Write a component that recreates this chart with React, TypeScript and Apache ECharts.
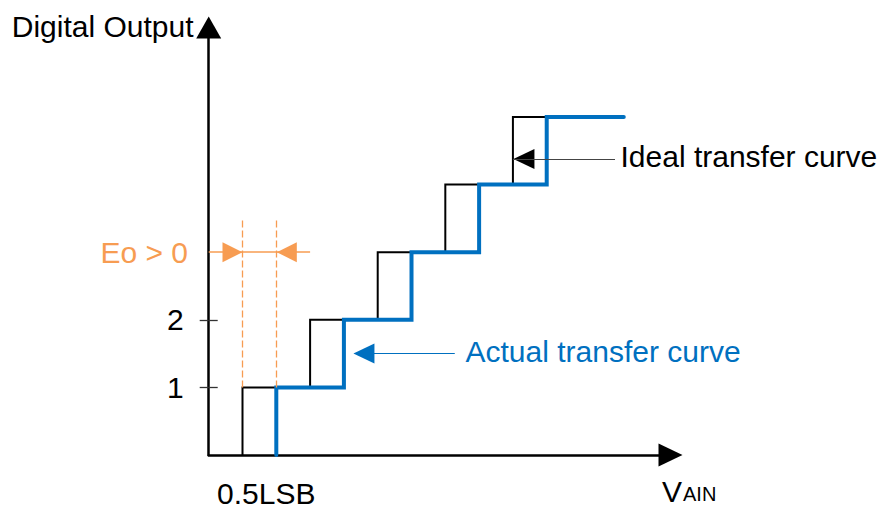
import React, { useEffect, useRef } from 'react';
import * as echarts from 'echarts';

// ---- data (LSB units on x, output codes on y) ----
const codes = [1, 2, 3, 4, 5];
const idealTransitions = [0.5, 1.5, 2.5, 3.5, 4.5];
const idealEnd = 5.0;
const actualTransitions = [1, 2, 3, 4, 5];
const actualEnd = 6.14;
const yTickValues = [1, 2];
const offsetLevel = 3;
const offsetDashTop = 3.5;
const texts = {
  yName: 'Digital Output',
  xName: 'V',
  xNameSub: 'AIN',
  offset: 'Eo > 0',
  halfLsb: '0.5LSB',
  ideal: 'Ideal transfer curve',
  actual: 'Actual transfer curve',
};

const BLUE = '#0070C0';
const ORANGE = '#F79C52';
const FONT = "'Liberation Sans', Arial, sans-serif";

function staircase(trans: number[], end: number): number[][] {
  const pts: number[][] = [[trans[0], 0]];
  trans.forEach((x, i) => {
    pts.push([x, codes[i]]);
    const nx = i + 1 < trans.length ? trans[i + 1] : end;
    pts.push([nx, codes[i]]);
  });
  return pts;
}

export default function App() {
  const ref = useRef<HTMLDivElement>(null);
  useEffect(() => {
    if (!ref.current) return;
    const chart = echarts.init(ref.current, null, { renderer: 'svg' });
    const X_MAX = 6.831;
    const Y_MAX = 6.324;
    const txt = (x: number, y: number, text: string, color: string, size: number, align: string) => ({
      type: 'text',
      x,
      y,
      silent: true,
      style: {
        text,
        fill: color,
        fontSize: size,
        fontFamily: FONT,
        lineHeight: Math.round(size * 0.85),
        align,
        verticalAlign: 'middle',
      },
    });
    const option: any = {
      animation: false,
      grid: { left: 208.7, right: 210.5, top: 27.5, bottom: 55, outerBoundsMode: 'none' },
      xAxis: {
        type: 'value',
        min: 0,
        max: X_MAX,
        axisLine: {
          show: true,
          symbol: ['none', 'triangle'],
          symbolSize: [23, 24],
          lineStyle: { color: '#000', width: 2.5 },
        },
        axisTick: { show: false },
        axisLabel: { show: false },
        splitLine: { show: false },
      },
      yAxis: [
        {
          type: 'value',
          min: 0,
          max: Y_MAX,
          position: 'left',
          axisLine: {
            show: true,
            symbol: ['none', 'triangle'],
            symbolSize: [25, 22],
            lineStyle: { color: '#000', width: 2.5 },
          },
          axisTick: {
            show: true,
            customValues: yTickValues,
            length: 9,
            lineStyle: { color: '#333', width: 1.3 },
          },
          axisLabel: {
            show: true,
            customValues: yTickValues,
            margin: 25,
            fontSize: 30,
            fontFamily: FONT,
            color: '#000',
          },
          splitLine: { show: false },
        },
        {
          type: 'value',
          min: 0,
          max: Y_MAX,
          position: 'left',
          offset: 0,
          axisLine: { show: false },
          axisTick: {
            show: true,
            inside: true,
            customValues: yTickValues,
            length: 9,
            lineStyle: { color: '#333', width: 1.3 },
          },
          axisLabel: { show: false },
          splitLine: { show: false },
        },
      ],
      series: [
        {
          type: 'line',
          name: 'Ideal',
          data: staircase(idealTransitions, idealEnd),
          symbol: 'none',
          silent: true,
          z: 3,
          lineStyle: { color: '#000', width: 2, join: 'miter' },
        },
        {
          type: 'scatter',
          name: 'IdealPointer',
          z: 2,
          silent: true,
          clip: false,
          symbol: 'triangle',
          symbolSize: [20, 21],
          itemStyle: { color: '#000', opacity: 1 },
          data: [{ value: [idealTransitions[4], 4.38], symbolRotate: 90, symbolOffset: [11, 0] }],
          markLine: {
            silent: true,
            symbol: ['none', 'none'],
            label: { show: false },
            lineStyle: { color: '#444', width: 1.2, type: 'solid' },
            data: [[{ coord: [idealTransitions[4], 4.38] }, { coord: [6.01, 4.38] }]],
          },
        },
        {
          type: 'scatter',
          name: 'ActualPointer',
          z: 2,
          silent: true,
          clip: false,
          symbol: 'triangle',
          symbolSize: [20, 21],
          itemStyle: { color: BLUE, opacity: 1 },
          data: [{ value: [actualTransitions[1], 1.5], symbolRotate: 90, symbolOffset: [20, 0] }],
          markLine: {
            silent: true,
            symbol: ['none', 'none'],
            label: { show: false },
            lineStyle: { color: BLUE, width: 1.2, type: 'solid' },
            data: [[{ coord: [2.3, 1.5] }, { coord: [3.64, 1.5] }]],
          },
        },
        {
          type: 'line',
          name: 'Actual',
          data: staircase(actualTransitions, actualEnd),
          symbol: 'none',
          silent: true,
          z: 4,
          lineStyle: { color: BLUE, width: 4, join: 'miter', cap: 'round' },
        },
        {
          type: 'scatter',
          name: 'Offset',
          z: 5,
          silent: true,
          clip: false,
          symbol: 'triangle',
          symbolSize: [20, 20],
          itemStyle: { color: ORANGE, opacity: 1 },
          data: [
            { value: [idealTransitions[0], offsetLevel], symbolRotate: -90, symbolOffset: [-10, 0] },
            { value: [actualTransitions[0], offsetLevel], symbolRotate: 90, symbolOffset: [10.5, 0] },
          ],
          markLine: {
            silent: true,
            symbol: ['none', 'none'],
            label: { show: false },
            lineStyle: { color: ORANGE, width: 1.3, type: [7, 3] },
            data: [
              [{ coord: [idealTransitions[0], codes[0]] }, { coord: [idealTransitions[0], offsetDashTop] }],
              [{ coord: [actualTransitions[0], codes[0]] }, { coord: [actualTransitions[0], offsetDashTop] }],
              [
                { coord: [0, offsetLevel], lineStyle: { type: 'solid', width: 1.6, color: ORANGE } },
                { coord: [idealTransitions[1], offsetLevel] },
              ],
            ],
          },
        },
      ],
      graphic: [
        txt(193.5, 26.5, texts.yName, '#000', 30, 'right'),
        txt(188, 252.5, texts.offset, ORANGE, 30, 'right'),
        txt(217, 493.5, texts.halfLsb, '#000', 30, 'left'),
        txt(620.5, 156, texts.ideal, '#000', 30, 'left'),
        txt(465.5, 351, texts.actual, BLUE, 30, 'left'),
        txt(662, 491, texts.xName, '#000', 30, 'left'),
        txt(683, 494.2, texts.xNameSub, '#000', 20, 'left'),
      ],
    };
    chart.setOption(option);
    return () => chart.dispose();
  }, []);
  return (
    <div
      ref={ref}
      style={{ position: 'fixed', left: 0, top: 0, width: 881, height: 510, background: '#fff' }}
    />
  );
}
